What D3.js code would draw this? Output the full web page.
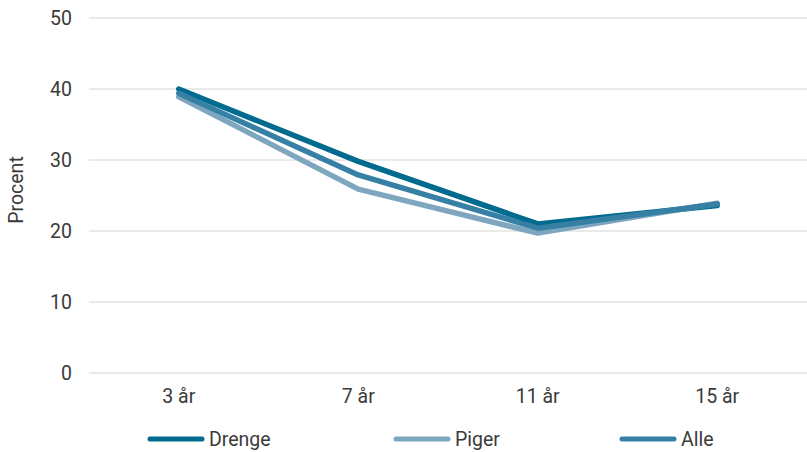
<!DOCTYPE html>
<html>
<head>
<meta charset="utf-8">
<script src="https://cdn.jsdelivr.net/npm/d3@7"></script>
<style>
  body { margin: 0; background: #fff; }
  text { font-family: Roboto, "Noto Sans", sans-serif; fill: #3a3a3a; }
</style>
</head>
<body>
<svg id="chart" width="807" height="452"></svg>
<script>
const categories = ["3 år", "7 år", "11 år", "15 år"];
const drenge = [40.0, 29.8, 21.0, 23.6];
const piger = [38.9, 25.9, 19.7, 23.9];
const alle = [39.4, 27.9, 20.4, 23.8];
const yTicks = [0, 10, 20, 30, 40, 50];

const series = [
  { name: "Drenge", values: drenge, color: "#006b8f" },
  { name: "Piger", values: piger, color: "#7fa6bf" },
  { name: "Alle", values: alle, color: "#3580a4" }
];

const svg = d3.select("#chart");
const plotLeft = 89, plotRight = 807, plotTop = 18, plotBottom = 373;
const fontSize = 19.5;

const x = d3.scaleBand().domain(categories).range([plotLeft, plotRight]);
const y = d3.scaleLinear().domain([0, 50]).range([plotBottom, plotTop]);

// horizontal gridlines
svg.append("g")
  .selectAll("line")
  .data(yTicks)
  .join("line")
  .attr("x1", plotLeft).attr("x2", plotRight)
  .attr("y1", d => y(d)).attr("y2", d => y(d))
  .attr("stroke", "#d4d4d4").attr("stroke-width", 1);

// y tick labels
svg.append("g")
  .selectAll("text")
  .data(yTicks)
  .join("text")
  .attr("x", 72).attr("y", d => y(d))
  .attr("dy", "0.35em")
  .attr("text-anchor", "end")
  .attr("font-size", fontSize)
  .text(d => d);

// x category labels
svg.append("g")
  .selectAll("text")
  .data(categories)
  .join("text")
  .attr("x", d => x(d) + x.bandwidth() / 2)
  .attr("y", 403)
  .attr("text-anchor", "middle")
  .attr("font-size", fontSize)
  .text(d => d);

// y axis title
svg.append("text")
  .attr("transform", "translate(23,190) rotate(-90)")
  .attr("text-anchor", "middle")
  .attr("font-size", fontSize)
  .text("Procent");

const line = d3.line()
  .x((d, i) => x(categories[i]) + x.bandwidth() / 2)
  .y(d => y(d));

svg.append("g")
  .selectAll("path")
  .data(series)
  .join("path")
  .attr("d", d => line(d.values))
  .attr("fill", "none")
  .attr("stroke", d => d.color)
  .attr("stroke-width", 5.5)
  .attr("stroke-linecap", "round")
  .attr("stroke-linejoin", "round");

// legend
const legendX = [147, 393, 619];
const lg = svg.append("g")
  .selectAll("g")
  .data(series)
  .join("g")
  .attr("transform", (d, i) => `translate(${legendX[i]},439)`);
lg.append("line")
  .attr("x1", 3).attr("x2", 55)
  .attr("stroke", d => d.color)
  .attr("stroke-width", 5)
  .attr("stroke-linecap", "round");
lg.append("text")
  .attr("x", 62)
  .attr("dy", "0.35em")
  .attr("font-size", fontSize)
  .text(d => d.name);
</script>
</body>
</html>
